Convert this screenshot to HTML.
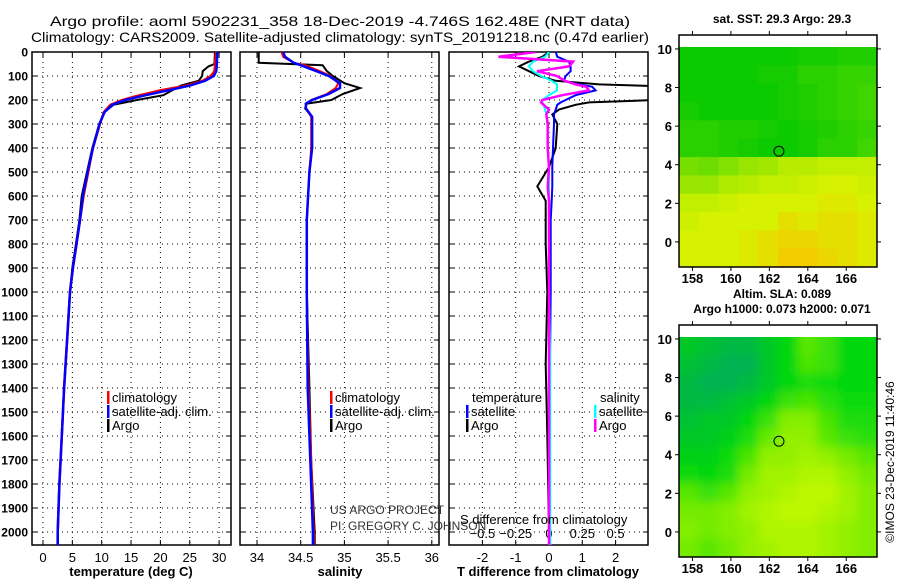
<!DOCTYPE html>
<html><head><meta charset="utf-8"><style>
body{margin:0;background:#fff}
svg{display:block;font-family:"Liberation Sans",sans-serif}
.b{font-weight:bold}
</style></head><body>
<svg id="s" width="900" height="580" viewBox="0 0 900 580"></svg>
<script>
// ---------- data ----------
const tempDepth=[0,50,60,80,100,120,140,160,180,200,220,250,300,400,500,600,700,800,900,1000,1200,1400,1600,1800,2000,2055];
const tempArgo=[29.3,29.2,28.2,27.2,27.1,26.5,23.5,22,20.5,16,12,10.5,9.6,8.4,7.5,6.6,6.2,5.6,5.0,4.6,4.1,3.6,3.2,2.8,2.5,2.5];
const tempClim=[29.5,29.3,29.3,29.2,28.6,27.2,24.5,20,16.5,13.5,11.5,10.4,9.7,8.5,7.7,6.9,6.3,5.7,5.1,4.6,4.1,3.6,3.2,2.8,2.5,2.5];
const tempSat=[29.7,29.6,29.6,29.5,29.1,27.6,25,21.3,17.5,14,11.8,10.5,9.6,8.5,7.6,6.8,6.3,5.7,5.1,4.6,4.1,3.6,3.2,2.8,2.5,2.5];
const salDepth=[0,20,45,55,80,100,130,150,175,200,215,235,270,400,500,700,1000,1400,1700,2000,2055];
const salArgo=[34.02,34.02,34.02,34.75,34.8,34.87,35.0,35.18,34.98,34.85,34.57,34.55,34.63,34.63,34.6,34.57,34.57,34.6,34.62,34.66,34.66];
const salClim=[34.28,34.3,34.42,34.55,34.72,34.84,34.93,34.9,34.8,34.62,34.56,34.56,34.62,34.62,34.6,34.57,34.57,34.59,34.62,34.65,34.65];
const salSat=[34.3,34.32,34.42,34.5,34.68,34.82,34.95,34.95,34.82,34.63,34.56,34.56,34.63,34.63,34.6,34.57,34.57,34.58,34.61,34.64,34.64];
const diffDepth=[0,20,40,60,80,100,120,135,145,160,180,200,210,220,240,260,300,400,480,560,620,700,800,1000,1300,1600,2000,2055];
const dT_argo=[0,-0.2,-0.6,-0.9,-0.6,-0.3,0.2,1.5,4,5,5,3.2,1.2,0.8,0.3,0.1,0.25,0.2,0,-0.35,-0.1,-0.1,-0.1,-0.05,-0.1,-0.05,0,0];
const dT_sat=[0.2,0.25,0.6,0.65,0.65,0.5,0.45,0.9,1.3,1.4,0.8,0.5,0.35,0.25,0.2,0.15,0.15,0.12,0.1,0.1,0.08,0.05,0.05,0.05,0.03,0.02,0,0];
const dS_sat=[0,-0.03,-0.12,-0.15,-0.12,-0.06,0.02,0.06,0.06,0.06,0.0,-0.05,-0.05,-0.04,-0.03,-0.02,-0.01,-0.01,0,0,0,0,0,0,0.01,0.01,0.01,0.01];
const dS_argo=[-0.1,-0.38,0.18,0.15,-0.09,0.06,0.12,0.2,0.28,0.3,0.1,-0.05,-0.06,-0.04,0,-0.02,-0.01,-0.01,0,-0.01,0,0,0,0,0,0,0,0];
const depthTicks=[0,100,200,300,400,500,600,700,800,900,1000,1100,1200,1300,1400,1500,1600,1700,1800,1900,2000];
const tTicks=[0,5,10,15,20,25,30];
const sTicks=[34,34.5,35,35.5,36];
const dTticks=[-2,-1,0,1,2];
const dSticks=[-0.5,-0.25,0,0.25,0.5];
const lonTicks=[158,160,162,164,166];
const latTicks=[10,8,6,4,2,0];
const sstGrid=[
[0.05,0.05,0.05,0.05,0.05,0.05,0.1,0.1,0.15,0.15],
[0.05,0.05,0.05,0.05,0.1,0.1,0.2,0.2,0.25,0.25],
[0.05,0.05,0.05,0.05,0.05,0.1,0.15,0.2,0.25,0.3],
[0.1,0.05,0.05,0.05,0.05,0.1,0.15,0.2,0.25,0.3],
[0.2,0.2,0.15,0.15,0.1,0.05,0.1,0.15,0.2,0.25],
[0.2,0.2,0.15,0.1,0.05,0.05,0.1,0.2,0.2,0.3],
[0.55,0.5,0.6,0.7,0.75,0.85,0.85,0.9,0.9,0.9],
[0.7,0.7,0.8,0.85,0.9,0.9,0.95,1.0,1.0,0.95],
[0.9,0.9,0.95,1,1,1,1,1.05,1.05,1],
[0.95,1,1,1,1,1.1,1.05,1.1,1.1,1.05],
[1,1,1,1.05,1.1,1.15,1.15,1.1,1.1,1.05],
[1,1,1,1.05,1.1,1.2,1.2,1.15,1.1,1.05]];
const slaGrid=[
[0.2,0.15,0.1,0.1,0.2,0.3,0.6,0.5,0.3,0.3],
[0.15,0.1,0.05,0.05,0.2,0.3,0.55,0.5,0.3,0.3],
[0.1,0.05,0.05,0.1,0.2,0.3,0.4,0.35,0.3,0.3],
[0.1,0.1,0.15,0.2,0.3,0.5,0.55,0.45,0.35,0.35],
[0.15,0.2,0.2,0.3,0.5,0.75,0.75,0.55,0.4,0.4],
[0.2,0.2,0.25,0.4,0.65,0.8,0.8,0.6,0.5,0.45],
[0.25,0.25,0.35,0.55,0.8,0.8,0.85,0.8,0.7,0.6],
[0.35,0.3,0.4,0.7,0.85,0.85,0.9,0.9,0.8,0.7],
[0.6,0.5,0.6,0.8,0.85,0.9,0.95,0.95,0.85,0.75],
[0.7,0.7,0.75,0.85,0.9,0.95,0.95,0.9,0.85,0.75],
[0.75,0.7,0.75,0.8,0.9,0.9,0.9,0.85,0.8,0.75],
[0.7,0.6,0.7,0.8,0.85,0.9,0.9,0.85,0.8,0.75]];
const floatLon=162.5, floatLat=4.7;

// ---------- helpers ----------
const NS='http://www.w3.org/2000/svg', S=document.getElementById('s');
function mk(tag,at,parent){const e=document.createElementNS(NS,tag);for(const k in at)e.setAttribute(k,at[k]);(parent||S).appendChild(e);return e;}
function txt(x,y,s,at){const e=mk('text',Object.assign({x:x,y:y,'font-size':13},at||{}));e.textContent=s;return e;}
const yD=d=>52+d*0.24;
const xT=v=>43+v*5.87;
const xS=v=>257+(v-34)*87.4;
const xdT=v=>549+v*33.3;
const xdS=v=>549+v*133.2;
const PT=545;
const panels=[[32,231],[240,439],[449,648]];

panels.forEach((p,i)=>{
  const g=mk('g',{});
  
  
  const cp=mk('clipPath',{id:'cp'+i},g);mk('rect',{x:p[0],y:52,width:p[1]-p[0],height:PT-52},cp);
  depthTicks.forEach(d=>{mk('line',{x1:p[0],x2:p[1],y1:yD(d),y2:yD(d),stroke:'#000','stroke-width':1,'stroke-dasharray':'1,4'},g);
    mk('line',{x1:p[0],x2:p[0]+5,y1:yD(d),y2:yD(d),stroke:'#000'},g);mk('line',{x1:p[1]-5,x2:p[1],y1:yD(d),y2:yD(d),stroke:'#000'},g);});
  const xt=[tTicks.map(xT),sTicks.map(xS),dTticks.map(xdT)][i];
  xt.forEach(x=>{mk('line',{x1:x,x2:x,y1:52,y2:PT,stroke:'#000','stroke-dasharray':'1,4'},g);
    mk('line',{x1:x,x2:x,y1:PT-5,y2:PT,stroke:'#000'},g);mk('line',{x1:x,x2:x,y1:52,y2:57,stroke:'#000'},g);});
  mk('rect',{x:p[0],y:52,width:p[1]-p[0],height:PT-52,fill:'none',stroke:'#000','stroke-width':1.5},g);
});
depthTicks.forEach(d=>{const t=txt(28,yD(d)+4.5,String(d),{'text-anchor':'end','class':'b','font-size':12});
  });
tTicks.forEach(v=>{const t=txt(xT(v),562,String(v),{'text-anchor':'middle','font-size':13});});
sTicks.forEach(v=>{const t=txt(xS(v),562,String(v),{'text-anchor':'middle','font-size':13});});
dTticks.forEach(v=>{const t=txt(xdT(v),562,String(v),{'text-anchor':'middle','font-size':13});});
dSticks.forEach(v=>{const t=txt(xdS(v),538,String(v).replace('-','−'),{'text-anchor':'middle','font-size':13});});

function line(xs,ds,fx,col,w,clip,name){
  const pts=xs.map((v,i)=>fx(v).toFixed(1)+','+yD(ds[i]).toFixed(1)).join(' ');
  const e=mk('polyline',{points:pts,fill:'none',stroke:col,'stroke-width':w,'clip-path':'url(#'+clip+')'});
  
  
}
line(tempArgo,tempDepth,xT,'#000',2,'cp0','temp-argo-line');
line(tempClim,tempDepth,xT,'#f00',2.5,'cp0','temp-clim-line');
line(tempSat,tempDepth,xT,'#00f',2.5,'cp0','temp-sat-line');
line(salArgo,salDepth,xS,'#000',2,'cp1','sal-argo-line');
line(salClim,salDepth,xS,'#f00',2,'cp1','sal-clim-line');
line(salSat,salDepth,xS,'#00f',2.5,'cp1','sal-sat-line');
line(dT_argo,diffDepth,xdT,'#000',2,'cp2','tdiff-argo-line');
line(dT_sat,diffDepth,xdT,'#00f',2,'cp2','tdiff-sat-line');
line(dS_sat,diffDepth,xdS,'#0ff',2,'cp2','sdiff-sat-line');
line(dS_argo,diffDepth,xdS,'#f0f',2.5,'cp2','sdiff-argo-line');

function leg(x,y,col,label,name){const g=mk('g',{});
  mk('rect',{x:x,y:y-11,width:2.5,height:13,fill:col},g);const t=mk('text',{x:x+5,y:y,'font-size':13},g);t.textContent=label;}
leg(107,402,'#f00','climatology','legend-climatology');
leg(107,416,'#00f','satellite-adj. clim.','legend-satellite');
leg(107,430,'#000','Argo','legend-argo');
leg(330,402,'#f00','climatology','legend-sal-climatology');
leg(330,416,'#00f','satellite-adj. clim.','legend-sal-satellite');
leg(330,430,'#000','Argo','legend-sal-argo');
txt(472,402,'temperature',{'font-size':13});
txt(600,402,'salinity',{'font-size':13});
leg(466,416,'#00f','satellite','legend-tdiff-sat');
leg(466,430,'#000','Argo','legend-tdiff-argo');
leg(594,416,'#0ff','satellite','legend-sdiff-sat');
leg(594,430,'#f0f','Argo','legend-sdiff-argo');
txt(460,524,'S difference from climatology',{'font-size':13});
txt(330,514,'US ARGO PROJECT',{'font-size':12,fill:'#333'});
txt(330,530,'PI: GREGORY C. JOHNSON',{'font-size':12,fill:'#333'});
txt(131,576,'temperature (deg C)',{'text-anchor':'middle','class':'b','font-size':13});
txt(340,576,'salinity',{'text-anchor':'middle','class':'b','font-size':13});
txt(548,576,'T difference from climatology',{'text-anchor':'middle','class':'b','font-size':13});
txt(340,26,'Argo profile: aoml 5902231_358 18-Dec-2019 -4.746S 162.48E (NRT data)',{'text-anchor':'middle','font-size':14,'textLength':580,'lengthAdjust':'spacingAndGlyphs'});
txt(340,42,'Climatology: CARS2009. Satellite-adjusted climatology: synTS_20191218.nc (0.47d earlier)',{'text-anchor':'middle','font-size':14,'textLength':618,'lengthAdjust':'spacingAndGlyphs'});

// maps
const lon0=157.3,lon1=167.6,lat0=-1.3,lat1=10.1;
function lerp(a,b,t){return a.map((v,i)=>Math.round(v+(b[i]-v)*t));}
function sstCol(v){if(v<=1)return 'rgb('+lerp([0,200,0],[215,242,0],v)+')';return 'rgb('+lerp([215,242,0],[250,195,0],Math.min(1,(v-1)/0.25))+')';}
function slaCol(v){if(v<=0.3)return 'rgb('+lerp([0,170,95],[0,215,10],v/0.3)+')';return 'rgb('+lerp([0,215,10],[205,250,0],(v-0.3)/0.7)+')';}
mk('filter',{id:'bl',x:'-10%',y:'-10%',width:'120%',height:'120%'}).appendChild(document.createElementNS(NS,'feGaussianBlur')).setAttribute('stdDeviation','5');
function map(top,grid,colf,blur,name,titles){
  const L=679,R=877,B=top+232;const mx=v=>L+(v-lon0)/(lon1-lon0)*(R-L);const my=v=>top+12+(lat1-v)/(lat1-lat0)*(B-top-12);
  const g=mk('g',{});
  const cp=mk('clipPath',{id:'c'+name},g);mk('rect',{x:L,y:top+12,width:R-L,height:B-top-12},cp);
  const cg=mk('g',{'clip-path':'url(#c'+name+')'},g);const inner=mk('g',blur?{filter:'url(#bl)'}:{},cg);
  const nr=grid.length,nc=grid[0].length,cw=(lon1-lon0)/nc,ch=(lat1-lat0)/nr;
  const pad=blur?25:0;
  grid.forEach((row,r)=>row.forEach((v,c)=>{let x0=mx(lon0+c*cw),y0=my(lat1-r*ch),x1=mx(lon0+(c+1)*cw)+1,y1=my(lat1-(r+1)*ch)+1;
    if(c===0)x0-=pad;if(c===nc-1)x1+=pad;if(r===0)y0-=pad;if(r===nr-1)y1+=pad;
    const e=mk('rect',{x:x0,y:y0,width:x1-x0,height:y1-y0,fill:colf(v)},inner);
    }));
  mk('circle',{cx:mx(floatLon),cy:my(floatLat),r:5,fill:'none',stroke:'#000'},g);
  mk('rect',{x:L,y:top,width:R-L,height:B-top,fill:'none',stroke:'#000','stroke-width':1.5},g);
  lonTicks.forEach(v=>{mk('line',{x1:mx(v),x2:mx(v),y1:top,y2:top-4,stroke:'#000'},g);mk('line',{x1:mx(v),x2:mx(v),y1:B,y2:B+4,stroke:'#000'},g);
    const t=mk('text',{x:mx(v),y:B+16,'text-anchor':'middle','font-size':13,'class':'b'},g);t.textContent=v;});
  latTicks.forEach(v=>{mk('line',{x1:L,x2:L-4,y1:my(v),y2:my(v),stroke:'#000'},g);mk('line',{x1:R,x2:R+4,y1:my(v),y2:my(v),stroke:'#000'},g);
    const t=mk('text',{x:672,y:my(v)+5,'text-anchor':'end','font-size':13,'class':'b'},g);t.textContent=v;});
  titles.forEach((s,i)=>{const t=mk('text',{x:782,y:top-12-(titles.length-1-i)*15,'text-anchor':'middle','font-size':12,'class':'b'},g);t.textContent=s;});
}
map(35,sstGrid,sstCol,false,'sst-map',['sat. SST: 29.3 Argo: 29.3']);
map(325,slaGrid,slaCol,true,'sla-map',['Altim. SLA: 0.089','Argo h1000: 0.073 h2000: 0.071']);
txt(0,0,'©IMOS 23-Dec-2019 11:40:46',{'font-size':12,'text-anchor':'middle','transform':'translate(894,462) rotate(-90)'});
</script>
</body></html>
